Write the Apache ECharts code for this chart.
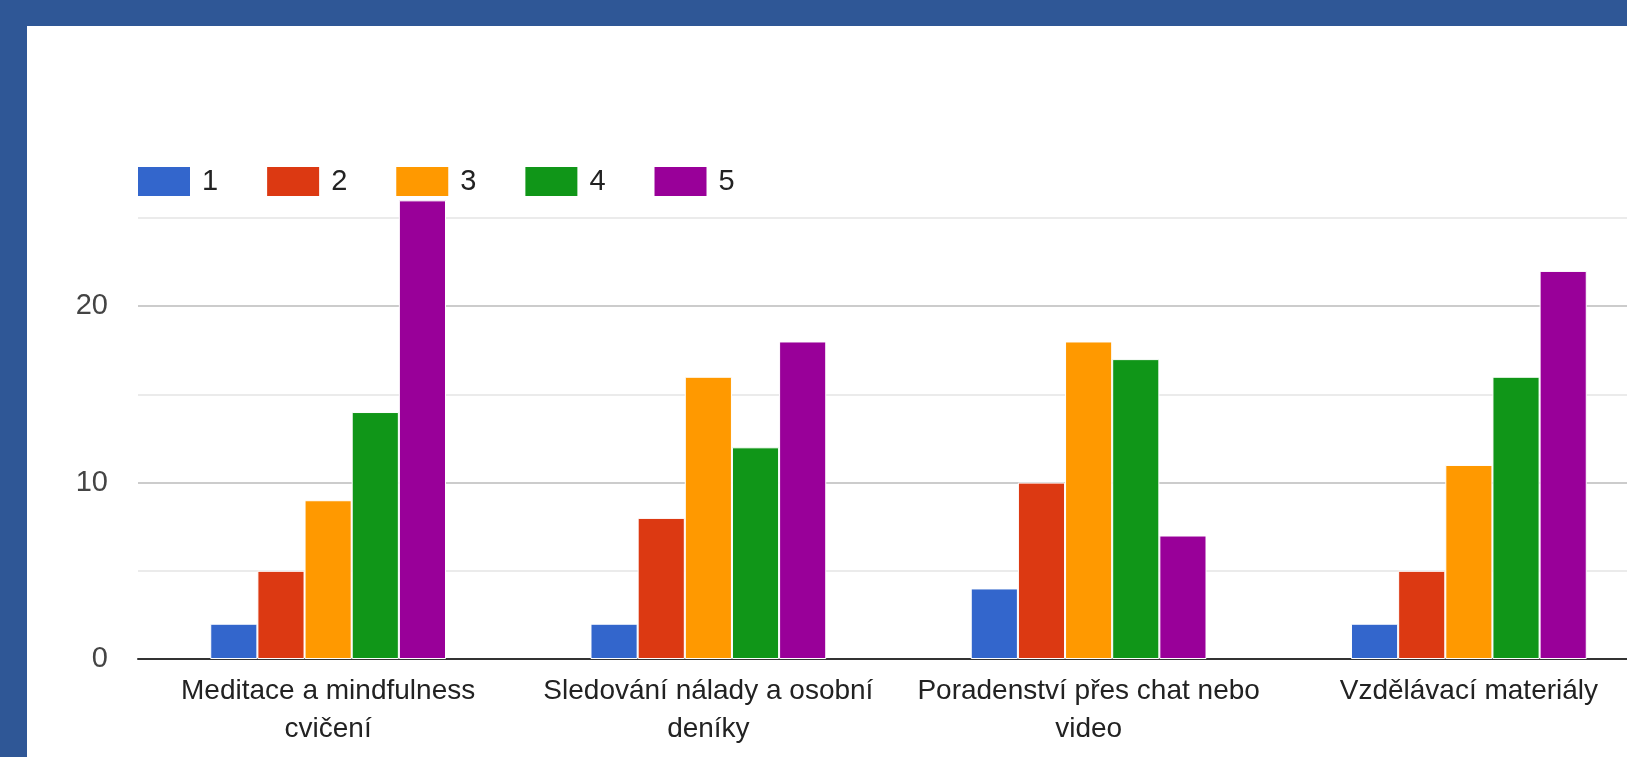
<!DOCTYPE html>
<html>
<head>
<meta charset="utf-8">
<script src="https://cdn.jsdelivr.net/npm/echarts@6/dist/echarts.min.js"></script>
<style>
html,body{margin:0;padding:0;width:1627px;height:757px;background:#2F5796;overflow:hidden;}
#chart{position:absolute;left:27px;top:26px;width:1650px;height:731px;background:#fff;}
</style>
</head>
<body>
<div id="chart"></div>
<script>
const categories = ["Meditace a mindfulness\ncvičení", "Sledování nálady a osobní\ndeníky", "Poradenství přes chat nebo\nvideo", "Vzdělávací materiály"];
const seriesNames = ["1", "2", "3", "4", "5"];
const s1 = [2, 2, 4, 2];
const s2 = [5, 8, 10, 5];
const s3 = [9, 16, 18, 11];
const s4 = [14, 12, 17, 16];
const s5 = [26, 18, 7, 22];
const colors = ["#3366CC", "#DC3912", "#FF9900", "#109618", "#990099"];
const allData = [s1, s2, s3, s4, s5];

const chart = echarts.init(document.getElementById('chart'));
const font = "'Liberation Sans', Arial, sans-serif";
chart.setOption({
  animation: false,
  color: colors,
  legend: {
    left: 109, top: 139, padding: 0,
    icon: 'rect', itemWidth: 54, itemHeight: 31, itemGap: 47,
    textStyle: {fontSize: 29, fontFamily: font, color: '#222', padding: [0, 0, 0, 6]},
    data: seriesNames
  },
  grid: {left: 111, top: 192, bottom: 98, width: 1521, containLabel: false},
  xAxis: {
    type: 'category', data: categories,
    axisLine: {show: true, lineStyle: {color: '#333', width: 2}},
    axisTick: {show: false},
    axisLabel: {fontSize: 28, fontFamily: font, color: '#222', margin: 13, lineHeight: 38, interval: 0}
  },
  yAxis: {
    type: 'value', min: 0, max: 25, interval: 5,
    axisLine: {show: false}, axisTick: {show: false},
    axisLabel: {fontSize: 29, fontFamily: font, color: '#444', margin: 30, padding: [14, 0, 0, 0],
      formatter: v => (v % 10 === 0 ? String(v) : '')},
    splitLine: {show: true, lineStyle: {width: 2, color: ['#cccccc', '#ebebeb', '#cccccc', '#ebebeb', '#cccccc', '#ebebeb']}}
  },
  series: allData.map((d, i) => ({
    name: seriesNames[i], type: 'bar', data: d,
    barGap: '0%', barCategoryGap: '38%', clip: false,
    itemStyle: {color: colors[i], borderColor: '#ffffff', borderWidth: 1}
  }))
});
</script>
</body>
</html>
